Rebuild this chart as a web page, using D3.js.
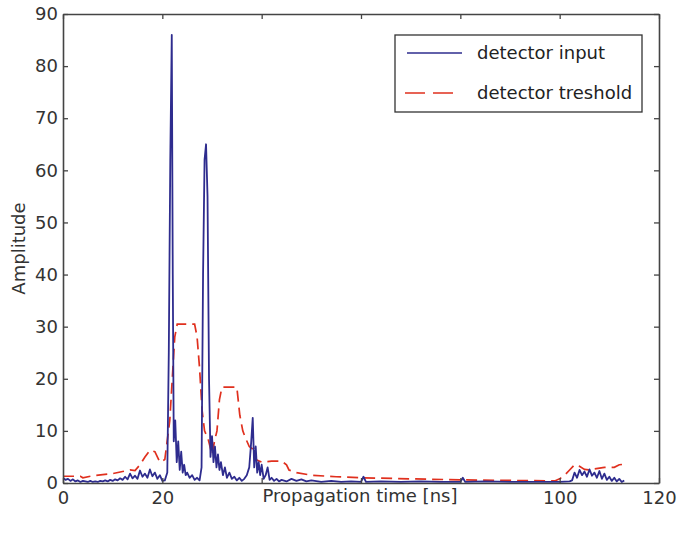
<!DOCTYPE html>
<html>
<head>
<meta charset="utf-8">
<script src="https://cdn.jsdelivr.net/npm/d3@7"></script>
<style>
  body { margin: 0; background: #fff; }
  svg text { font-family: "DejaVu Sans", sans-serif; }
</style>
</head>
<body>
<div class="container"></div>
<script>
// detector input (blue, solid)
var inputTime = [0,0.5,1,1.5,2,2.5,3,3.5,4,4.5,5,5.5,6,6.5,7,7.5,8,8.5,9,9.5,10,10.5,11,11.5,12,12.5,13,13.5,14,14.5,15,15.5,16,16.5,17,17.5,18,18.5,19,19.5,20,20.5,21,21.3,21.6,21.9,22.1,22.3,22.6,22.9,23.2,23.5,23.8,24.1,24.4,24.7,25,25.5,26,26.5,27,27.5,27.9,28.2,28.5,28.8,29.1,29.4,29.7,30,30.3,30.6,30.9,31.2,31.5,31.8,32.2,32.6,33,33.5,34,34.5,35,35.5,36,36.5,37,37.5,37.9,38.2,38.5,38.8,39.1,39.4,39.7,40,40.4,40.8,41.2,41.6,42,42.5,43,43.5,44,45,46,47,48,49,50,52,54,56,58,60,60.5,61,64,68,72,76,80,80.5,81,85,90,95,100,102,102.5,103,103.5,104,104.5,105,105.5,106,106.5,107,107.5,108,108.5,109,109.5,110,110.5,111,111.5,112,112.5,113];
var inputAmp = [1.0,0.6,0.8,0.4,0.7,0.3,0.5,0.2,0.4,0.3,0.2,0.4,0.2,0.3,0.2,0.4,0.3,0.5,0.3,0.6,0.4,0.7,0.5,0.9,0.6,1.2,0.7,1.8,0.9,1.4,0.8,2.4,1.2,1.8,1.0,2.6,1.3,2.0,0.8,1.5,0.4,0.5,2,25,62,86,40,8,12,4,8,2.5,6,2,3.5,1.5,2,1,1.5,0.6,1,0.5,3,40,62,65,55,20,5,9,4,7,3,5.5,2.5,4,1.5,3,1,2,0.8,1.2,0.5,1,0.4,0.8,1.5,3,8,12.5,3,7,2,4,1.5,3.5,0.8,1.5,3,0.6,1,0.4,0.8,0.3,0.6,0.3,0.8,0.4,0.7,0.3,0.5,0.2,0.4,0.2,0.3,0.2,1.2,0.2,0.3,0.2,0.3,0.2,0.2,1.0,0.2,0.3,0.2,0.2,0.2,0.3,0.5,2,1,2.5,1.5,2.2,1.2,2.6,1.4,2.0,1.0,2.3,0.8,1.8,0.6,1.2,0.4,1.0,0.3,0.8,0.2,0.5];

// detector treshold (red, dashed)
var tresholdTime = [0,3.5,4,6,8,10,12,13.5,14.5,15.5,16.5,17.5,18.5,19.5,20.5,21.5,22.5,23,26.5,27,27.5,28,28.5,29.2,30,30.5,31,31.5,32,35,35.6,36.2,36.8,37.5,38.2,38.8,40,42,44,45,45.5,47,50,55,60,70,80,90,99,100,101,102,103,104,105,106,107,109,111,112,113];
var tresholdAmp = [1.3,1.3,1.0,1.4,1.6,1.8,2.2,2.5,2.4,3.5,5.0,6.3,6.0,4.0,4.5,12,28,30.5,30.5,28,22,14,10,8.5,5.5,8,10,16,18.4,18.4,13,10,8.5,7,6.5,4.5,4,4.2,4.2,3.5,2.5,2,1.5,1.2,1.0,0.8,0.6,0.5,0.4,0.8,1.5,2.5,3.5,3.2,2.6,2.5,2.7,3.0,3.0,3.5,3.6];

var xTicks = [0,20,40,60,80,100,120];
// labels under the x label text are not visible in the figure
var xTickLabels = ['0','20','','','','100','120'];
var yTicks = [0,10,20,30,40,50,60,70,80,90];
var seriesNames = ['detector input', 'detector treshold'];

var w = 681, h = 539;
var margin = {left: 63, top: 14, right: 22, bottom: 56};
var blue = '#2e2c8e', red = '#e0301e';

var svg = d3.select('.container')
  .append('svg')
  .attr('width', w)
  .attr('height', h);

var xScale = d3.scaleLinear()
  .domain([0, 120])
  .range([margin.left, w - margin.right]);

var yScale = d3.scaleLinear()
  .domain([0, 90])
  .range([h - margin.bottom, margin.top]);

svg.append('clipPath').attr('id', 'plotclip')
  .append('rect')
  .attr('x', xScale(0)).attr('y', yScale(90))
  .attr('width', xScale(120) - xScale(0))
  .attr('height', yScale(0) - yScale(90));

/* lines */
var line = d3.line()
  .x(function(d) { return xScale(d[0]); })
  .y(function(d) { return yScale(d[1]); });

svg.append('path')
  .datum(d3.zip(tresholdTime, tresholdAmp))
  .attr('clip-path', 'url(#plotclip)')
  .attr('d', line)
  .attr('fill', 'none')
  .attr('stroke', red)
  .attr('stroke-width', 1.7)
  .attr('stroke-dasharray', '11,6');

svg.append('path')
  .datum(d3.zip(inputTime, inputAmp))
  .attr('clip-path', 'url(#plotclip)')
  .attr('d', line)
  .attr('fill', 'none')
  .attr('stroke', blue)
  .attr('stroke-width', 1.8)
  .attr('stroke-linejoin', 'round');

/* axes (matlab style box, ticks inside) */
function styleAxis(g) {
  g.selectAll('path').attr('stroke', '#444').attr('stroke-width', 1.6);
  g.selectAll('line').attr('stroke', '#444').attr('stroke-width', 1.3);
  g.selectAll('text').style('font-size', '18px').attr('fill', '#333')
    .style('font-family', '"DejaVu Sans", sans-serif');
}

svg.append('g')
  .attr('transform', 'translate(0,' + yScale(0) + ')')
  .call(d3.axisBottom(xScale).tickValues(xTicks).tickSizeInner(-5).tickSizeOuter(0).tickPadding(8)
    .tickFormat(function(d, i) { return xTickLabels[i]; }))
  .call(styleAxis);

svg.append('g')
  .attr('transform', 'translate(0,' + yScale(90) + ')')
  .call(d3.axisTop(xScale).tickValues(xTicks).tickSizeInner(-5).tickSizeOuter(0).tickFormat(''))
  .call(styleAxis);

svg.append('g')
  .attr('transform', 'translate(' + xScale(0) + ',0)')
  .call(d3.axisLeft(yScale).tickValues(yTicks).tickSizeInner(-5).tickSizeOuter(0).tickPadding(5))
  .call(styleAxis);

svg.append('g')
  .attr('transform', 'translate(' + xScale(120) + ',0)')
  .call(d3.axisRight(yScale).tickValues(yTicks).tickSizeInner(-5).tickSizeOuter(0).tickFormat(''))
  .call(styleAxis);

/* axis titles */
svg.append('text')
  .attr('x', 360)
  .attr('y', 502)
  .attr('text-anchor', 'middle')
  .style('font-size', '18px')
  .attr('fill', '#333')
  .text('Propagation time [ns]');

svg.append('text')
  .attr('transform', 'translate(25,' + (yScale(45)) + ') rotate(-90)')
  .attr('text-anchor', 'middle')
  .style('font-size', '18px')
  .attr('fill', '#333')
  .text('Amplitude');

/* legend */
var legend = svg.append('g');
legend.append('rect')
  .attr('x', 395).attr('y', 35)
  .attr('width', 247).attr('height', 77)
  .attr('fill', '#fff')
  .attr('stroke', '#333')
  .attr('stroke-width', 1.3);

legend.append('line')
  .attr('x1', 407).attr('x2', 462).attr('y1', 53).attr('y2', 53)
  .attr('stroke', blue).attr('stroke-width', 1.6);
legend.append('line')
  .attr('x1', 405).attr('x2', 458).attr('y1', 93).attr('y2', 93)
  .attr('stroke', red).attr('stroke-width', 1.7)
  .attr('stroke-dasharray', '20,8');

legend.selectAll('text.lab')
  .data(seriesNames)
  .enter()
  .append('text')
  .attr('class', 'lab')
  .attr('x', 477)
  .attr('y', function(d, i) { return 53 + i * 40; })
  .attr('dy', '0.35em')
  .style('font-size', '18px')
  .attr('fill', '#222')
  .text(function(d) { return d; });
</script>
</body>
</html>
